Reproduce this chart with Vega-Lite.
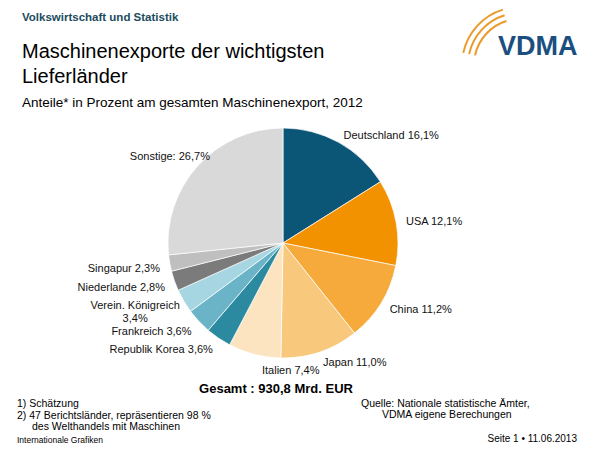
{
  "$schema": "https://vega.github.io/schema/vega-lite/v6.json",
  "width": 230,
  "height": 230,
  "autosize": "none",
  "padding": {"left": 168, "top": 128, "right": 202, "bottom": 92},
  "background": "#ffffff",
  "config": {
    "view": {"stroke": null},
    "text": {"font": "Liberation Sans"}
  },
  "data": {
    "values": [
      {"rang": 1, "land": "Deutschland", "anteil": 16.1},
      {"rang": 2, "land": "USA", "anteil": 12.1},
      {"rang": 3, "land": "China", "anteil": 11.2},
      {"rang": 4, "land": "Japan", "anteil": 11.0},
      {"rang": 5, "land": "Italien", "anteil": 7.4},
      {"rang": 6, "land": "Republik Korea", "anteil": 3.6},
      {"rang": 7, "land": "Frankreich", "anteil": 3.6},
      {"rang": 8, "land": "Verein. Königreich", "anteil": 3.4},
      {"rang": 9, "land": "Niederlande", "anteil": 2.8},
      {"rang": 10, "land": "Singapur", "anteil": 2.3},
      {"rang": 11, "land": "Sonstige", "anteil": 26.7}
    ]
  },
  "transform": [
    {"stack": "anteil", "groupby": [], "sort": [{"field": "rang", "order": "ascending"}], "as": ["a0", "a1"]},
    {"calculate": "(datum.a0 + datum.a1) / 2", "as": "mitte"},
    {"calculate": "replace(format(datum.anteil, '.1f'), '.', ',') + '%'", "as": "prozent"},
    {"calculate": "datum.land == 'Sonstige' ? datum.land + ': ' + datum.prozent : (datum.land == 'Verein. Königreich' ? datum.land + '\\n' + datum.prozent : datum.land + ' ' + datum.prozent)", "as": "label"}
  ],
  "layer": [
    {
      "mark": {"type": "arc", "stroke": "#ffffff", "strokeWidth": 0.7},
      "encoding": {
        "theta": {"field": "anteil", "type": "quantitative", "stack": true},
        "order": {"field": "rang", "type": "quantitative"},
        "color": {
          "field": "land",
          "type": "nominal",
          "legend": null,
          "scale": {
            "domain": ["Deutschland", "USA", "China", "Japan", "Italien", "Republik Korea", "Frankreich", "Verein. Königreich", "Niederlande", "Singapur", "Sonstige"],
            "range": ["#0b5576", "#f39200", "#f6aa3c", "#f8c97c", "#fce4c0", "#2b8aa0", "#6bb4c8", "#a6d6e2", "#7b7b7b", "#bfbfbf", "#d9d9d9"]
          }
        }
      }
    },
    {
      "transform": [{"filter": "indexof(['Deutschland', 'USA', 'China', 'Japan'], datum.land) >= 0"}],
      "mark": {"type": "text", "radius": 125, "align": "left", "baseline": "middle", "dy": 2, "fontSize": 11, "color": "#111111"},
      "encoding": {
        "theta": {"field": "mitte", "type": "quantitative", "stack": null},
        "text": {"field": "label"}
      }
    },
    {
      "transform": [{"filter": "indexof(['Republik Korea', 'Frankreich', 'Niederlande', 'Singapur'], datum.land) >= 0"}],
      "mark": {"type": "text", "radius": 125, "align": "right", "baseline": "middle", "dy": 4, "fontSize": 11, "color": "#111111"},
      "encoding": {
        "theta": {"field": "mitte", "type": "quantitative", "stack": null},
        "text": {"field": "label"}
      }
    },
    {
      "transform": [{"filter": "datum.land == 'Verein. Königreich'"}],
      "mark": {"type": "text", "radius": 125, "align": "center", "baseline": "middle", "dx": -40, "dy": 0, "lineBreak": "\n", "lineHeight": 12.5, "fontSize": 11, "color": "#111111"},
      "encoding": {
        "theta": {"field": "mitte", "type": "quantitative", "stack": null},
        "text": {"field": "label"}
      }
    },
    {
      "transform": [{"filter": "datum.land == 'Italien'"}],
      "mark": {"type": "text", "radius": 130, "align": "center", "baseline": "middle", "dx": 40, "dy": 2, "fontSize": 11, "color": "#111111"},
      "encoding": {
        "theta": {"field": "mitte", "type": "quantitative", "stack": null},
        "text": {"field": "label"}
      }
    },
    {
      "transform": [{"filter": "datum.land == 'Sonstige'"}],
      "mark": {"type": "text", "radius": 128, "align": "right", "baseline": "middle", "dx": 22, "dy": 0, "fontSize": 11, "color": "#111111"},
      "encoding": {
        "theta": {"field": "mitte", "type": "quantitative", "stack": null},
        "text": {"field": "label"}
      }
    },
    {
      "data": {"values": [{}]},
      "mark": {"type": "text", "text": "Volkswirtschaft und Statistik", "align": "left", "baseline": "alphabetic", "fontSize": 11.5, "fontWeight": "bold", "color": "#1c4b5e"},
      "encoding": {"x": {"value": -146}, "y": {"value": -107}}
    },
    {
      "data": {"values": [{}]},
      "mark": {"type": "text", "text": ["Maschinenexporte der wichtigsten", "Lieferländer"], "align": "left", "baseline": "alphabetic", "fontSize": 20, "lineHeight": 25, "color": "#000000"},
      "encoding": {"x": {"value": -146}, "y": {"value": -70}}
    },
    {
      "data": {"values": [{}]},
      "mark": {"type": "text", "text": "Anteile* in Prozent am gesamten Maschinenexport, 2012", "align": "left", "baseline": "alphabetic", "fontSize": 13.5, "color": "#000000"},
      "encoding": {"x": {"value": -146}, "y": {"value": -21}}
    },
    {
      "data": {"values": [{"r0": 45, "r1": 47}, {"r0": 51, "r1": 53}, {"r0": 57, "r1": 59}]},
      "mark": {"type": "arc", "theta": -1.36, "theta2": -0.3, "color": "#eb9a2a"},
      "encoding": {
        "x": {"value": 352},
        "y": {"value": -63},
        "radius": {"field": "r0", "type": "quantitative", "scale": null},
        "radius2": {"field": "r1"}
      }
    },
    {
      "data": {"values": [{}]},
      "mark": {"type": "text", "text": "VDMA", "align": "left", "baseline": "alphabetic", "fontSize": 27, "fontWeight": "bold", "color": "#1a4f80"},
      "encoding": {"x": {"value": 330}, "y": {"value": -73}}
    },
    {
      "data": {"values": [{}]},
      "mark": {"type": "text", "text": "Gesamt : 930,8 Mrd. EUR", "align": "center", "baseline": "alphabetic", "fontSize": 13, "fontWeight": "bold", "color": "#000000"},
      "encoding": {"x": {"value": 108}, "y": {"value": 265}}
    },
    {
      "data": {"values": [{}]},
      "mark": {"type": "text", "text": ["1) Schätzung", "2) 47 Berichtsländer, repräsentieren 98 %"], "align": "left", "baseline": "alphabetic", "fontSize": 10.5, "lineHeight": 12, "color": "#000000"},
      "encoding": {"x": {"value": -151}, "y": {"value": 279}}
    },
    {
      "data": {"values": [{}]},
      "mark": {"type": "text", "text": "des Welthandels mit Maschinen", "align": "left", "baseline": "alphabetic", "fontSize": 10.5, "color": "#000000"},
      "encoding": {"x": {"value": -136}, "y": {"value": 302}}
    },
    {
      "data": {"values": [{}]},
      "mark": {"type": "text", "text": "Internationale Grafiken", "align": "left", "baseline": "alphabetic", "fontSize": 8.5, "color": "#000000"},
      "encoding": {"x": {"value": -151}, "y": {"value": 315}}
    },
    {
      "data": {"values": [{}]},
      "mark": {"type": "text", "text": "Quelle: Nationale statistische Ämter,", "align": "left", "baseline": "alphabetic", "fontSize": 10.5, "color": "#000000"},
      "encoding": {"x": {"value": 193}, "y": {"value": 279}}
    },
    {
      "data": {"values": [{}]},
      "mark": {"type": "text", "text": "VDMA eigene Berechungen", "align": "left", "baseline": "alphabetic", "fontSize": 10.5, "color": "#000000"},
      "encoding": {"x": {"value": 214}, "y": {"value": 290}}
    },
    {
      "data": {"values": [{}]},
      "mark": {"type": "text", "text": "Seite 1 • 11.06.2013", "align": "right", "baseline": "alphabetic", "fontSize": 10, "color": "#000000"},
      "encoding": {"x": {"value": 409}, "y": {"value": 314}}
    }
  ]
}
